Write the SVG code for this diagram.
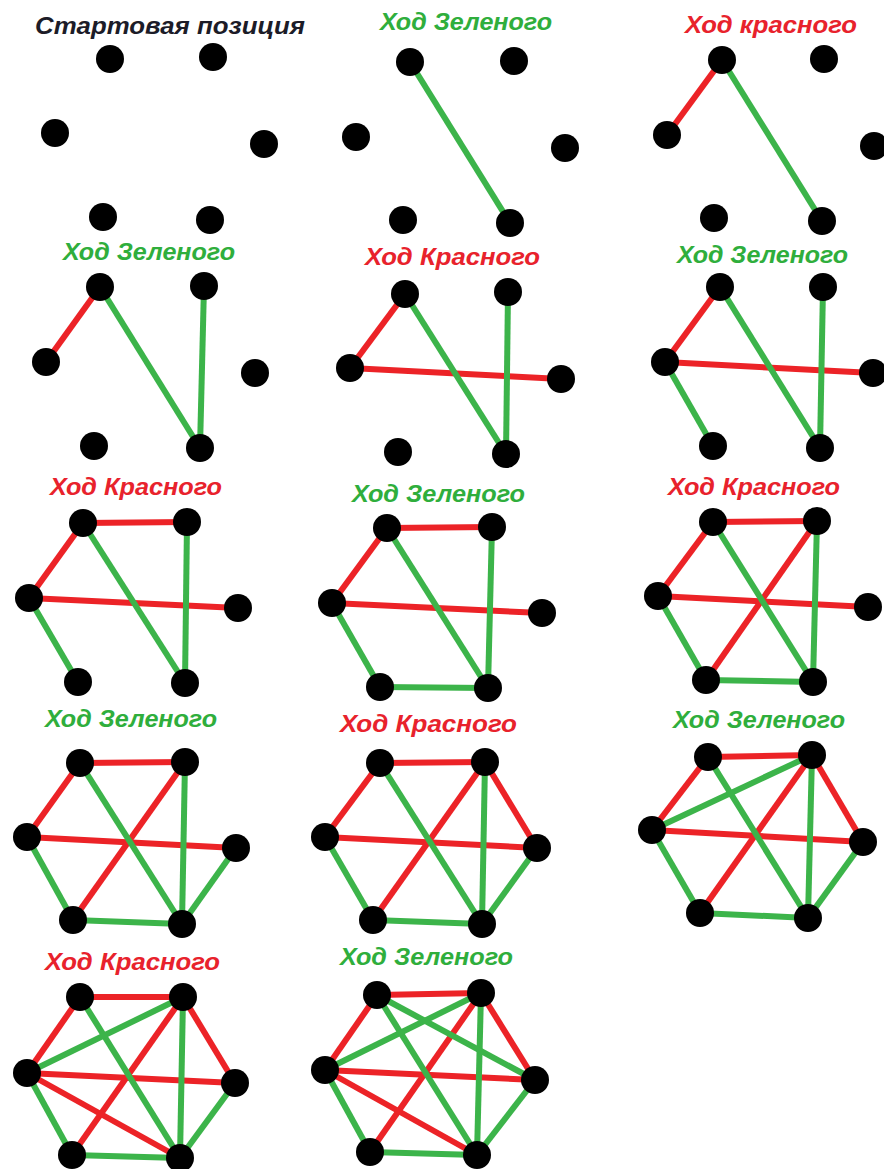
<svg xmlns="http://www.w3.org/2000/svg" width="884" height="1169" viewBox="0 0 884 1169">
<style>
.bg{fill:#ffffff}
.t{font-family:"Liberation Sans",Arial,sans-serif;font-weight:bold;font-style:italic;font-size:24px}
.tk{fill:#1c1c28}
.tg{fill:#2fae3c}
.tr{fill:#e8222c}
.n{fill:#000000}
.e line{stroke-width:6;stroke-linecap:butt}
.r{stroke:#ec2327}
.g{stroke:#3cb44a}
</style>
<rect class="bg" x="0" y="0" width="884" height="1169"/>

<!-- Panel 1 -->
<g id="p1">
<text class="t tk" x="35" y="34" textLength="270" lengthAdjust="spacingAndGlyphs">Стартовая позиция</text>
<g id="p1-nodes">
<circle id="p1-TL" class="n" cx="110" cy="59" r="14"/>
<circle id="p1-TR" class="n" cx="213" cy="57" r="14"/>
<circle id="p1-L" class="n" cx="55" cy="133" r="14"/>
<circle id="p1-R" class="n" cx="264" cy="144" r="14"/>
<circle id="p1-BL" class="n" cx="103" cy="217" r="14"/>
<circle id="p1-BR" class="n" cx="210" cy="220" r="14"/>
</g>
</g>

<!-- Panel 2 -->
<g id="p2">
<text class="t tg" x="380" y="30" textLength="172" lengthAdjust="spacingAndGlyphs">Ход Зеленого</text>
<g class="e" id="p2-edges">
<line class="g" x1="410" y1="62" x2="510" y2="223"/>
</g>
<g id="p2-nodes">
<circle id="p2-TL" class="n" cx="410" cy="62" r="14"/>
<circle id="p2-TR" class="n" cx="514" cy="61" r="14"/>
<circle id="p2-L" class="n" cx="356" cy="137" r="14"/>
<circle id="p2-R" class="n" cx="565" cy="148" r="14"/>
<circle id="p2-BL" class="n" cx="403" cy="220" r="14"/>
<circle id="p2-BR" class="n" cx="510" cy="223" r="14"/>
</g>
</g>

<!-- Panel 3 -->
<g id="p3">
<text class="t tr" x="685" y="33" textLength="172" lengthAdjust="spacingAndGlyphs">Ход красного</text>
<g class="e" id="p3-edges">
<line class="r" x1="722" y1="60" x2="667" y2="135"/>
<line class="g" x1="722" y1="60" x2="822" y2="221"/>
</g>
<g id="p3-nodes">
<circle id="p3-TL" class="n" cx="722" cy="60" r="14"/>
<circle id="p3-TR" class="n" cx="824" cy="59" r="14"/>
<circle id="p3-L" class="n" cx="667" cy="135" r="14"/>
<circle id="p3-R" class="n" cx="874" cy="146" r="14"/>
<circle id="p3-BL" class="n" cx="714" cy="218" r="14"/>
<circle id="p3-BR" class="n" cx="822" cy="221" r="14"/>
</g>
</g>

<!-- Panel 4 -->
<g id="p4">
<text class="t tg" x="63" y="260" textLength="172" lengthAdjust="spacingAndGlyphs">Ход Зеленого</text>
<g class="e" id="p4-edges">
<line class="r" x1="100" y1="287" x2="46" y2="362"/>
<line class="g" x1="100" y1="287" x2="200" y2="448"/>
<line class="g" x1="204" y1="286" x2="200" y2="448"/>
</g>
<g id="p4-nodes">
<circle id="p4-TL" class="n" cx="100" cy="287" r="14"/>
<circle id="p4-TR" class="n" cx="204" cy="286" r="14"/>
<circle id="p4-L" class="n" cx="46" cy="362" r="14"/>
<circle id="p4-R" class="n" cx="255" cy="373" r="14"/>
<circle id="p4-BL" class="n" cx="94" cy="446" r="14"/>
<circle id="p4-BR" class="n" cx="200" cy="448" r="14"/>
</g>
</g>

<!-- Panel 5 -->
<g id="p5">
<text class="t tr" x="365" y="265" textLength="175" lengthAdjust="spacingAndGlyphs">Ход Красного</text>
<g class="e" id="p5-edges">
<line class="r" x1="405" y1="294" x2="350" y2="368"/>
<line class="r" x1="350" y1="368" x2="561" y2="379"/>
<line class="g" x1="405" y1="294" x2="506" y2="454"/>
<line class="g" x1="508" y1="292" x2="506" y2="454"/>
</g>
<g id="p5-nodes">
<circle id="p5-TL" class="n" cx="405" cy="294" r="14"/>
<circle id="p5-TR" class="n" cx="508" cy="292" r="14"/>
<circle id="p5-L" class="n" cx="350" cy="368" r="14"/>
<circle id="p5-R" class="n" cx="561" cy="379" r="14"/>
<circle id="p5-BL" class="n" cx="398" cy="452" r="14"/>
<circle id="p5-BR" class="n" cx="506" cy="454" r="14"/>
</g>
</g>

<!-- Panel 6 -->
<g id="p6">
<text class="t tg" x="677" y="263" textLength="171" lengthAdjust="spacingAndGlyphs">Ход Зеленого</text>
<g class="e" id="p6-edges">
<line class="r" x1="720" y1="287" x2="665" y2="362"/>
<line class="r" x1="665" y1="362" x2="873" y2="373"/>
<line class="g" x1="720" y1="287" x2="820" y2="448"/>
<line class="g" x1="823" y1="287" x2="820" y2="448"/>
<line class="g" x1="665" y1="362" x2="713" y2="446"/>
</g>
<g id="p6-nodes">
<circle id="p6-TL" class="n" cx="720" cy="287" r="14"/>
<circle id="p6-TR" class="n" cx="823" cy="287" r="14"/>
<circle id="p6-L" class="n" cx="665" cy="362" r="14"/>
<circle id="p6-R" class="n" cx="873" cy="373" r="14"/>
<circle id="p6-BL" class="n" cx="713" cy="446" r="14"/>
<circle id="p6-BR" class="n" cx="820" cy="448" r="14"/>
</g>
</g>

<!-- Panel 7 -->
<g id="p7">
<text class="t tr" x="50" y="495" textLength="172" lengthAdjust="spacingAndGlyphs">Ход Красного</text>
<g class="e" id="p7-edges">
<line class="r" x1="83" y1="523" x2="187" y2="522"/>
<line class="r" x1="83" y1="523" x2="29" y2="598"/>
<line class="r" x1="29" y1="598" x2="238" y2="608"/>
<line class="g" x1="83" y1="523" x2="185" y2="683"/>
<line class="g" x1="187" y1="522" x2="185" y2="683"/>
<line class="g" x1="29" y1="598" x2="78" y2="682"/>
</g>
<g id="p7-nodes">
<circle id="p7-TL" class="n" cx="83" cy="523" r="14"/>
<circle id="p7-TR" class="n" cx="187" cy="522" r="14"/>
<circle id="p7-L" class="n" cx="29" cy="598" r="14"/>
<circle id="p7-R" class="n" cx="238" cy="608" r="14"/>
<circle id="p7-BL" class="n" cx="78" cy="682" r="14"/>
<circle id="p7-BR" class="n" cx="185" cy="683" r="14"/>
</g>
</g>

<!-- Panel 8 -->
<g id="p8">
<text class="t tg" x="352" y="502" textLength="173" lengthAdjust="spacingAndGlyphs">Ход Зеленого</text>
<g class="e" id="p8-edges">
<line class="r" x1="387" y1="528" x2="492" y2="527"/>
<line class="r" x1="387" y1="528" x2="332" y2="603"/>
<line class="r" x1="332" y1="603" x2="542" y2="613"/>
<line class="g" x1="387" y1="528" x2="488" y2="688"/>
<line class="g" x1="492" y1="527" x2="488" y2="688"/>
<line class="g" x1="332" y1="603" x2="380" y2="687"/>
<line class="g" x1="380" y1="687" x2="488" y2="688"/>
</g>
<g id="p8-nodes">
<circle id="p8-TL" class="n" cx="387" cy="528" r="14"/>
<circle id="p8-TR" class="n" cx="492" cy="527" r="14"/>
<circle id="p8-L" class="n" cx="332" cy="603" r="14"/>
<circle id="p8-R" class="n" cx="542" cy="613" r="14"/>
<circle id="p8-BL" class="n" cx="380" cy="687" r="14"/>
<circle id="p8-BR" class="n" cx="488" cy="688" r="14"/>
</g>
</g>

<!-- Panel 9 -->
<g id="p9">
<text class="t tr" x="668" y="495" textLength="172" lengthAdjust="spacingAndGlyphs">Ход Красного</text>
<g class="e" id="p9-edges">
<line class="r" x1="713" y1="522" x2="817" y2="521"/>
<line class="r" x1="713" y1="522" x2="658" y2="596"/>
<line class="r" x1="658" y1="596" x2="868" y2="607"/>
<line class="r" x1="817" y1="521" x2="706" y2="680"/>
<line class="g" x1="713" y1="522" x2="813" y2="682"/>
<line class="g" x1="817" y1="521" x2="813" y2="682"/>
<line class="g" x1="658" y1="596" x2="706" y2="680"/>
<line class="g" x1="706" y1="680" x2="813" y2="682"/>
</g>
<g id="p9-nodes">
<circle id="p9-TL" class="n" cx="713" cy="522" r="14"/>
<circle id="p9-TR" class="n" cx="817" cy="521" r="14"/>
<circle id="p9-L" class="n" cx="658" cy="596" r="14"/>
<circle id="p9-R" class="n" cx="868" cy="607" r="14"/>
<circle id="p9-BL" class="n" cx="706" cy="680" r="14"/>
<circle id="p9-BR" class="n" cx="813" cy="682" r="14"/>
</g>
</g>

<!-- Panel 10 -->
<g id="p10">
<text class="t tg" x="45" y="727" textLength="172" lengthAdjust="spacingAndGlyphs">Ход Зеленого</text>
<g class="e" id="p10-edges">
<line class="r" x1="80" y1="763" x2="185" y2="762"/>
<line class="r" x1="80" y1="763" x2="27" y2="837"/>
<line class="r" x1="27" y1="837" x2="236" y2="848"/>
<line class="r" x1="185" y1="762" x2="73" y2="920"/>
<line class="g" x1="80" y1="763" x2="182" y2="924"/>
<line class="g" x1="185" y1="762" x2="182" y2="924"/>
<line class="g" x1="27" y1="837" x2="73" y2="920"/>
<line class="g" x1="73" y1="920" x2="182" y2="924"/>
<line class="g" x1="236" y1="848" x2="182" y2="924"/>
</g>
<g id="p10-nodes">
<circle id="p10-TL" class="n" cx="80" cy="763" r="14"/>
<circle id="p10-TR" class="n" cx="185" cy="762" r="14"/>
<circle id="p10-L" class="n" cx="27" cy="837" r="14"/>
<circle id="p10-R" class="n" cx="236" cy="848" r="14"/>
<circle id="p10-BL" class="n" cx="73" cy="920" r="14"/>
<circle id="p10-BR" class="n" cx="182" cy="924" r="14"/>
</g>
</g>

<!-- Panel 11 -->
<g id="p11">
<text class="t tr" x="340" y="732" textLength="177" lengthAdjust="spacingAndGlyphs">Ход Красного</text>
<g class="e" id="p11-edges">
<line class="r" x1="380" y1="763" x2="485" y2="762"/>
<line class="r" x1="380" y1="763" x2="325" y2="837"/>
<line class="r" x1="325" y1="837" x2="537" y2="848"/>
<line class="r" x1="485" y1="762" x2="373" y2="920"/>
<line class="r" x1="485" y1="762" x2="537" y2="848"/>
<line class="g" x1="380" y1="763" x2="482" y2="924"/>
<line class="g" x1="485" y1="762" x2="482" y2="924"/>
<line class="g" x1="325" y1="837" x2="373" y2="920"/>
<line class="g" x1="373" y1="920" x2="482" y2="924"/>
<line class="g" x1="537" y1="848" x2="482" y2="924"/>
</g>
<g id="p11-nodes">
<circle id="p11-TL" class="n" cx="380" cy="763" r="14"/>
<circle id="p11-TR" class="n" cx="485" cy="762" r="14"/>
<circle id="p11-L" class="n" cx="325" cy="837" r="14"/>
<circle id="p11-R" class="n" cx="537" cy="848" r="14"/>
<circle id="p11-BL" class="n" cx="373" cy="920" r="14"/>
<circle id="p11-BR" class="n" cx="482" cy="924" r="14"/>
</g>
</g>

<!-- Panel 12 -->
<g id="p12">
<text class="t tg" x="673" y="728" textLength="172" lengthAdjust="spacingAndGlyphs">Ход Зеленого</text>
<g class="e" id="p12-edges">
<line class="r" x1="708" y1="757" x2="812" y2="755"/>
<line class="r" x1="708" y1="757" x2="652" y2="830"/>
<line class="r" x1="652" y1="830" x2="863" y2="842"/>
<line class="r" x1="812" y1="755" x2="700" y2="913"/>
<line class="r" x1="812" y1="755" x2="863" y2="842"/>
<line class="g" x1="708" y1="757" x2="808" y2="918"/>
<line class="g" x1="812" y1="755" x2="808" y2="918"/>
<line class="g" x1="652" y1="830" x2="700" y2="913"/>
<line class="g" x1="700" y1="913" x2="808" y2="918"/>
<line class="g" x1="863" y1="842" x2="808" y2="918"/>
<line class="g" x1="652" y1="830" x2="812" y2="755"/>
</g>
<g id="p12-nodes">
<circle id="p12-TL" class="n" cx="708" cy="757" r="14"/>
<circle id="p12-TR" class="n" cx="812" cy="755" r="14"/>
<circle id="p12-L" class="n" cx="652" cy="830" r="14"/>
<circle id="p12-R" class="n" cx="863" cy="842" r="14"/>
<circle id="p12-BL" class="n" cx="700" cy="913" r="14"/>
<circle id="p12-BR" class="n" cx="808" cy="918" r="14"/>
</g>
</g>

<!-- Panel 13 -->
<g id="p13">
<text class="t tr" x="45" y="970" textLength="175" lengthAdjust="spacingAndGlyphs">Ход Красного</text>
<g class="e" id="p13-edges">
<line class="r" x1="80" y1="997" x2="183" y2="997"/>
<line class="r" x1="80" y1="997" x2="27" y2="1073"/>
<line class="r" x1="27" y1="1073" x2="235" y2="1083"/>
<line class="r" x1="183" y1="997" x2="72" y2="1155"/>
<line class="r" x1="183" y1="997" x2="235" y2="1083"/>
<line class="r" x1="27" y1="1073" x2="180" y2="1158"/>
<line class="g" x1="80" y1="997" x2="180" y2="1158"/>
<line class="g" x1="183" y1="997" x2="180" y2="1158"/>
<line class="g" x1="27" y1="1073" x2="72" y2="1155"/>
<line class="g" x1="72" y1="1155" x2="180" y2="1158"/>
<line class="g" x1="235" y1="1083" x2="180" y2="1158"/>
<line class="g" x1="27" y1="1073" x2="183" y2="997"/>
</g>
<g id="p13-nodes">
<circle id="p13-TL" class="n" cx="80" cy="997" r="14"/>
<circle id="p13-TR" class="n" cx="183" cy="997" r="14"/>
<circle id="p13-L" class="n" cx="27" cy="1073" r="14"/>
<circle id="p13-R" class="n" cx="235" cy="1083" r="14"/>
<circle id="p13-BL" class="n" cx="72" cy="1155" r="14"/>
<circle id="p13-BR" class="n" cx="180" cy="1158" r="14"/>
</g>
</g>

<!-- Panel 14 -->
<g id="p14">
<text class="t tg" x="340" y="965" textLength="173" lengthAdjust="spacingAndGlyphs">Ход Зеленого</text>
<g class="e" id="p14-edges">
<line class="r" x1="377" y1="995" x2="481" y2="993"/>
<line class="r" x1="377" y1="995" x2="325" y2="1070"/>
<line class="r" x1="325" y1="1070" x2="535" y2="1080"/>
<line class="r" x1="481" y1="993" x2="370" y2="1152"/>
<line class="r" x1="481" y1="993" x2="535" y2="1080"/>
<line class="r" x1="325" y1="1070" x2="477" y2="1155"/>
<line class="g" x1="377" y1="995" x2="477" y2="1155"/>
<line class="g" x1="481" y1="993" x2="477" y2="1155"/>
<line class="g" x1="325" y1="1070" x2="370" y2="1152"/>
<line class="g" x1="370" y1="1152" x2="477" y2="1155"/>
<line class="g" x1="535" y1="1080" x2="477" y2="1155"/>
<line class="g" x1="325" y1="1070" x2="481" y2="993"/>
<line class="g" x1="377" y1="995" x2="535" y2="1080"/>
</g>
<g id="p14-nodes">
<circle id="p14-TL" class="n" cx="377" cy="995" r="14"/>
<circle id="p14-TR" class="n" cx="481" cy="993" r="14"/>
<circle id="p14-L" class="n" cx="325" cy="1070" r="14"/>
<circle id="p14-R" class="n" cx="535" cy="1080" r="14"/>
<circle id="p14-BL" class="n" cx="370" cy="1152" r="14"/>
<circle id="p14-BR" class="n" cx="477" cy="1155" r="14"/>
</g>
</g>
</svg>
